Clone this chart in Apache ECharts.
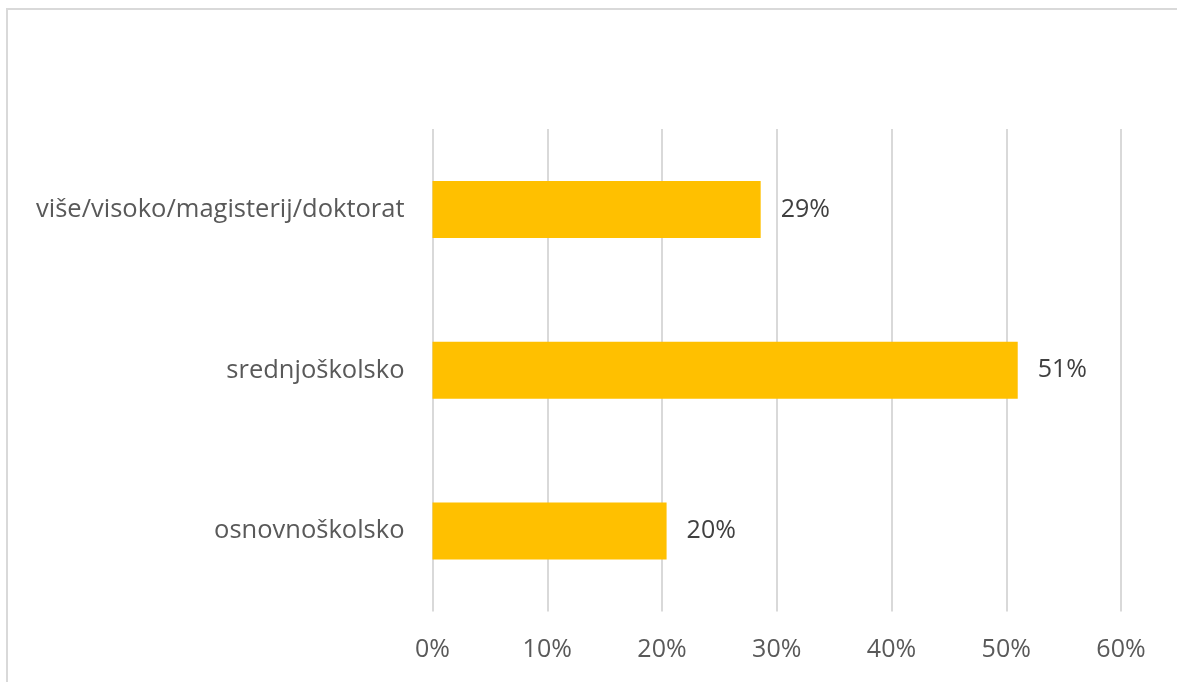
<!DOCTYPE html>
<html>
<head>
<meta charset="utf-8">
<script src="https://cdn.jsdelivr.net/npm/echarts@6/dist/echarts.min.js"></script>
<style>
html,body{margin:0;padding:0;background:#fff;}
#c{width:1177px;height:682px;}
</style>
</head>
<body>
<div id="c"></div>
<script>
var categories = ['osnovnoškolsko', 'srednjoškolsko', 'više/visoko/magisterij/doktorat'];
var values = [20.4, 51.0, 28.6];
var valueLabels = ['20%', '51%', '29%'];
var tickValues = [0, 10, 20, 30, 40, 50, 60];

var chart = echarts.init(document.getElementById('c'), null, {renderer: 'canvas'});
chart.setOption({
  backgroundColor: '#ffffff',
  animation: false,
  textStyle: {fontFamily: 'Open Sans'},
  graphic: [{
    type: 'rect',
    silent: true,
    shape: {x: 7, y: 9, width: 1200, height: 700},
    style: {fill: 'none', stroke: '#d9d9d9', lineWidth: 2}
  }],
  grid: {left: 432.5, right: 56, top: 129, bottom: 70.5, containLabel: false},
  xAxis: {
    type: 'value',
    min: tickValues[0],
    max: tickValues[tickValues.length - 1],
    interval: 10,
    axisLine: {show: false},
    axisTick: {show: false},
    splitLine: {show: true, lineStyle: {color: '#d9d9d9', width: 2}},
    axisLabel: {
      formatter: function (v) { return v + '%'; },
      color: '#595959',
      fontSize: 25,
      fontFamily: 'Open Sans',
      margin: 26
    }
  },
  yAxis: {
    type: 'category',
    data: categories,
    axisLine: {show: false},
    axisTick: {show: false},
    axisLabel: {
      color: '#595959',
      fontSize: 25.5,
      fontFamily: 'Open Sans',
      margin: 28
    }
  },
  series: [{
    type: 'bar',
    data: values,
    barWidth: 57,
    itemStyle: {color: '#ffc000'},
    label: {
      show: true,
      position: 'right',
      distance: 20,
      color: '#404040',
      fontSize: 25,
      fontFamily: 'Open Sans',
      formatter: function (p) { return valueLabels[p.dataIndex]; }
    }
  }]
});
</script>
</body>
</html>
